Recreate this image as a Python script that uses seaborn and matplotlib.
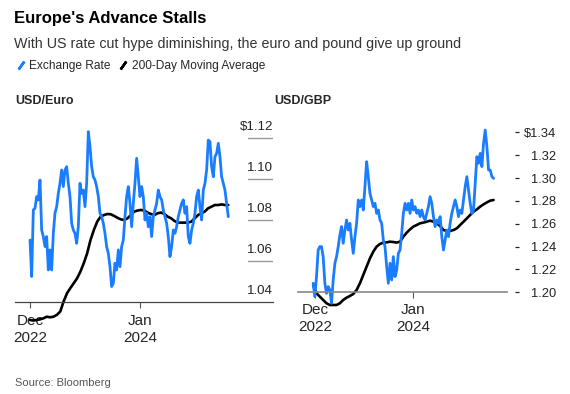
import numpy as np
import pandas as pd
import seaborn as sns
import matplotlib.pyplot as plt
from matplotlib.lines import Line2D

# USD/Euro exchange rate, sampled roughly every 6 days from Dec 2022
euro_rate = [1.0702, 1.0524, 1.0849, 1.0857, 1.0914, 1.0898, 1.0995, 1.0751, 1.0719, 1.0670,
             1.0719, 1.0556, 1.0654, 1.0556, 1.0735, 1.0833, 1.0865, 1.0930, 1.0979, 1.1044,
             1.0963, 1.1044, 1.1060, 1.0979, 1.0914, 1.0784, 1.0751, 1.0735, 1.0686, 1.0767,
             1.0979, 1.0930, 1.0946, 1.0865, 1.0979, 1.1231, 1.1158, 1.1060, 1.1011, 1.0995,
             1.0963, 1.0914, 1.0833, 1.0816, 1.0784, 1.0735, 1.0670, 1.0637, 1.0572, 1.0475,
             1.0491, 1.0589, 1.0556, 1.0654, 1.0572, 1.0670, 1.0702, 1.0816, 1.0914, 1.0963,
             1.0881, 1.0767, 1.0881, 1.0979, 1.1101, 1.1011, 1.0914, 1.0963, 1.0914, 1.0800,
             1.0833, 1.0767, 1.0816, 1.0719, 1.0816, 1.0849, 1.0881, 1.0946, 1.0914, 1.0898,
             1.0849, 1.0816, 1.0784, 1.0719, 1.0621, 1.0670, 1.0751, 1.0735, 1.0767, 1.0816,
             1.0849, 1.0881, 1.0898, 1.0833, 1.0865, 1.0719, 1.0686, 1.0751, 1.0784, 1.0833,
             1.0914, 1.0946, 1.0865, 1.0800, 1.0946, 1.0979, 1.1044, 1.1190, 1.1182, 1.1060,
             1.1011, 1.1109, 1.1125, 1.1174, 1.1109, 1.1011, 1.0979, 1.0946, 1.0881, 1.0816]
# USD/Euro 200-day moving average, every 12 days
euro_ma = [1.0312, 1.0309, 1.0312, 1.0315, 1.0320, 1.0328, 1.0325, 1.0328, 1.0337, 1.0353,
           1.0402, 1.0442, 1.0467, 1.0491, 1.0515, 1.0548, 1.0589, 1.0637, 1.0702, 1.0751,
           1.0792, 1.0816, 1.0824, 1.0829, 1.0828, 1.0820, 1.0811, 1.0803, 1.0800, 1.0808,
           1.0824, 1.0841, 1.0846, 1.0849, 1.0846, 1.0836, 1.0829, 1.0824, 1.0833, 1.0836,
           1.0829, 1.0816, 1.0808, 1.0795, 1.0787, 1.0787, 1.0787, 1.0787, 1.0792, 1.0808,
           1.0824, 1.0833, 1.0841, 1.0857, 1.0865, 1.0873, 1.0873, 1.0876, 1.0873, 1.0873]

# USD/GBP exchange rate
gbp_rate = [1.2079, 1.1962, 1.2137, 1.2370, 1.2400, 1.2400, 1.2312, 1.2079, 1.1991, 1.2050,
            1.2020, 1.1904, 1.2108, 1.2254, 1.2312, 1.2400, 1.2502, 1.2575, 1.2429, 1.2545,
            1.2633, 1.2545, 1.2604, 1.2458, 1.2341, 1.2487, 1.2604, 1.2808, 1.2750, 1.2808,
            1.2720, 1.2925, 1.3143, 1.3012, 1.2866, 1.2808, 1.2750, 1.2779, 1.2691, 1.2720,
            1.2633, 1.2604, 1.2458, 1.2400, 1.2225, 1.2079, 1.2254, 1.2108, 1.2312, 1.2137,
            1.2195, 1.2341, 1.2370, 1.2516, 1.2691, 1.2779, 1.2720, 1.2779, 1.2691, 1.2808,
            1.2720, 1.2750, 1.2691, 1.2720, 1.2662, 1.2720, 1.2662, 1.2633, 1.2691, 1.2750,
            1.2837, 1.2779, 1.2662, 1.2575, 1.2633, 1.2604, 1.2662, 1.2487, 1.2370, 1.2458,
            1.2545, 1.2487, 1.2604, 1.2691, 1.2750, 1.2808, 1.2750, 1.2662, 1.2720, 1.2691,
            1.2808, 1.2925, 1.3012, 1.2895, 1.2779, 1.2691, 1.2720, 1.2954, 1.3187, 1.3129,
            1.3216, 1.3100, 1.3304, 1.3420, 1.3275, 1.3070, 1.3070, 1.3012, 1.2997]
gbp_ma = [1.2064, 1.1991, 1.1962, 1.1933, 1.1904, 1.1889, 1.1889, 1.1889, 1.1904, 1.1933,
          1.1953, 1.1968, 1.1985, 1.2020, 1.2079, 1.2152, 1.2225, 1.2297, 1.2356, 1.2400,
          1.2423, 1.2435, 1.2437, 1.2443, 1.2440, 1.2435, 1.2443, 1.2487, 1.2522, 1.2551,
          1.2575, 1.2589, 1.2604, 1.2610, 1.2618, 1.2627, 1.2618, 1.2604, 1.2580, 1.2545,
          1.2537, 1.2537, 1.2545, 1.2560, 1.2589, 1.2618, 1.2647, 1.2677, 1.2706, 1.2726,
          1.2750, 1.2770, 1.2787, 1.2802, 1.2808]

euro_ticks = [1.04, 1.06, 1.08, 1.10, 1.12]
gbp_ticks = [1.20, 1.22, 1.24, 1.26, 1.28, 1.30, 1.32, 1.34]
x_ticks = [pd.Timestamp("2022-12-01"), pd.Timestamp("2024-01-01")]
x_labels = ["Dec\n2022", "Jan\n2024"]

BLUE = "#1A7DFF"
sns.set_theme(style="white")
plt.rcParams["font.family"] = ["Liberation Sans", "DejaVu Sans"]


def frame(rate, ma, start, end):
    d1 = pd.DataFrame({"Date": pd.date_range(start, end, periods=len(rate)), "Rate": rate,
                       "Series": "Exchange Rate"})
    d2 = pd.DataFrame({"Date": pd.date_range(start, end, periods=len(ma)), "Rate": ma,
                       "Series": "200-Day Moving Average"})
    return pd.concat([d1, d2], ignore_index=True)


euro = frame(euro_rate, euro_ma, "2022-12-01", "2024-11-14")
gbp = frame(gbp_rate, gbp_ma, "2022-11-24", "2024-11-19")

W, H = 570, 394
fig = plt.figure(figsize=(W / 100, H / 100), dpi=100)
ax1 = fig.add_axes([15 / W, 1 - 322 / H, 258 / W, 210 / H])
ax2 = fig.add_axes([298 / W, 1 - 322 / H, 209 / W, 210 / H])

for ax, df, pad in ((ax1, euro, 5), (ax2, gbp, 4)):
    sns.lineplot(data=df[df.Series == "200-Day Moving Average"], x="Date", y="Rate",
                 color="black", lw=1.9, ax=ax, legend=False)
    sns.lineplot(data=df[df.Series == "Exchange Rate"], x="Date", y="Rate",
                 color=BLUE, lw=2.0, ax=ax, legend=False)
    ax.set_xlabel("")
    ax.set_ylabel("")
    for s in ("top", "left", "right"):
        ax.spines[s].set_visible(False)
    ax.set_xticks(x_ticks)
    ax.set_xticklabels(x_labels, fontsize=9.5, color="#222222", linespacing=1.15)
    ax.tick_params(axis="x", bottom=True, length=4, width=0.8, color="#555555", pad=pad)
    ax.patch.set_alpha(0)

# left panel: labels sit above short grey rules
ax1.set_xlim(pd.Timestamp("2022-10-08"), pd.Timestamp("2025-04-24"))
ax1.set_ylim(1.0302, 1.1327)
ax1.spines["bottom"].set_position(("data", 1.04))
ax1.spines["bottom"].set_color("#444444")
ax1.spines["bottom"].set_linewidth(0.9)
ax1.set_yticks([])
for v in euro_ticks:
    if v > 1.04:
        ax1.axhline(v, xmin=0.905, xmax=1, color="#999999", lw=1)
    lab = "$1.12" if v == 1.12 else f"{v:.2f}"
    ax1.annotate(lab, xy=(1, v), xycoords=ax1.get_yaxis_transform(), xytext=(0, 6),
                 textcoords="offset points", ha="right", va="baseline",
                 fontsize=9.5, color="#222222")

# right panel: dashes then right-aligned labels
ax2.set_xlim(pd.Timestamp("2022-09-24"), pd.Timestamp("2025-01-12"))
ax2.set_ylim(1.174, 1.3578)
ax2.spines["bottom"].set_position(("data", 1.20))
ax2.spines["bottom"].set_color("#888888")
ax2.spines["bottom"].set_linewidth(1.2)
ax2.spines["right"].set_position(("outward", 6))
ax2.yaxis.tick_right()
ax2.set_yticks(gbp_ticks)
ax2.set_yticklabels(["$1.34" if v == 1.34 else f"{v:.2f}" for v in gbp_ticks],
                    fontsize=9.3, color="#222222")
ax2.tick_params(axis="y", right=True, left=False, length=3, width=0.9,
                color="#222222", pad=26.5)
for lbl in ax2.get_yticklabels():
    lbl.set_horizontalalignment("right")

fig.text(14 / W, 1 - 18 / H, "Europe's Advance Stalls", fontsize=12, fontweight="bold",
         va="center", ha="left", color="black")
fig.text(14 / W, 1 - 44 / H, "With US rate cut hype diminishing, the euro and pound give up ground",
         fontsize=10.3, va="center", ha="left", color="#333333")
fig.text(15 / W, 1 - 101 / H, "USD/Euro", fontsize=9, fontweight="bold", va="center", ha="left")
fig.text(274 / W, 1 - 101 / H, "USD/GBP", fontsize=9, fontweight="bold", va="center", ha="left")
fig.text(15 / W, 1 - 383 / H, "Source: Bloomberg", fontsize=8, va="center", ha="left",
         color="#555555")

handles = [Line2D([], [], color=BLUE, marker=(2, 2, -35), ms=7, mew=1.8, ls="none"),
           Line2D([], [], color="black", marker=(2, 2, -35), ms=7, mew=1.8, ls="none")]
fig.legend(handles, ["Exchange Rate", "200-Day Moving Average"], loc="center left",
           bbox_to_anchor=(6 / W, 1 - 66 / H), ncol=2, frameon=False, fontsize=8.6,
           handlelength=0.7, handletextpad=0.35, columnspacing=0.7)

fig.savefig("out.png", dpi=100)
